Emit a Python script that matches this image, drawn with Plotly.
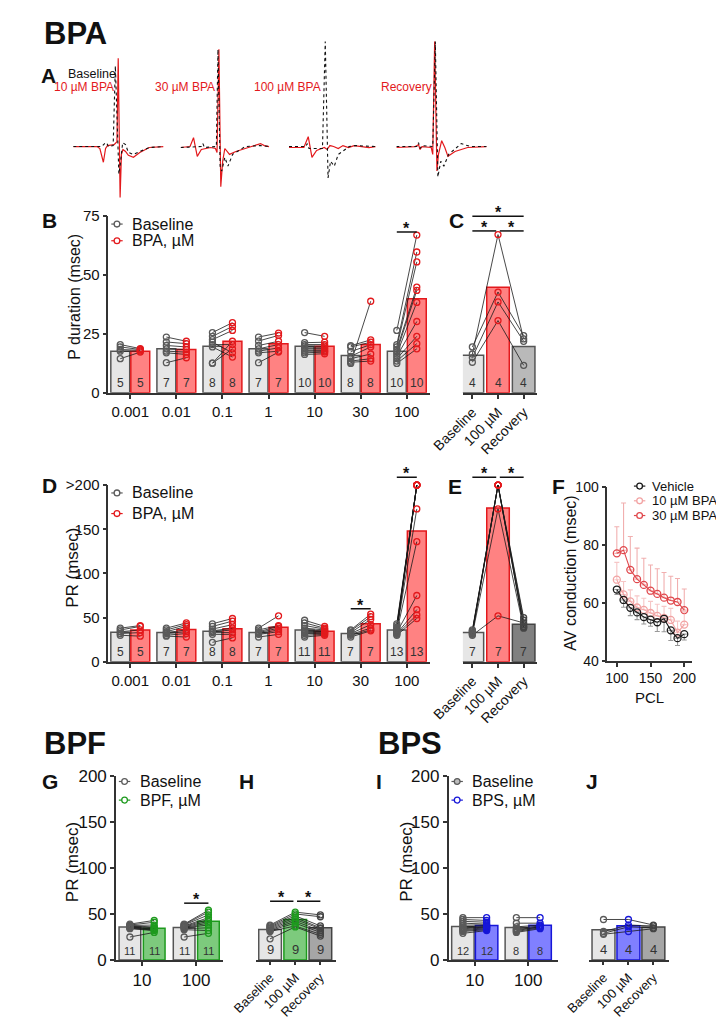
import plotly.graph_objects as go

W, H = 724, 1019
FONT = "Liberation Sans, Arial, Helvetica, sans-serif"

# ===================== DATA =====================
# A - representative electrograms: time (ms from sweep start), amplitude (a.u.)
A1_base_t = [0, 30, 33, 35, 37, 42, 44.3, 46, 48, 49.5, 52, 55, 58, 63, 70, 80, 95]
A1_base_v = [0, 0, 3, 4, 0, 1, 82, 20, -28, -18, 4, 2, -6, -8, -5, -1, 0]
A1_drug_t = [0, 25, 28, 31.7, 34, 36, 43, 46, 47.3, 48.3, 49.3, 50.7, 52.3, 55, 58, 63.3, 70, 80, 95]
A1_drug_v = [0, 0, -2, -16, -2, 1, 2, 5, 90, 20, -52, -8, -3, -5, -9, -11, -6, -1, 0]
A2_base_t = [0, 22, 23.7, 25.3, 38, 39.7, 42, 43.7, 47, 50.3, 55.3, 68.7, 85, 94]
A2_base_v = [-1, 0, 3, -1, 0, 99, -20, -25, -11, -20, -8, 0, 1, 0]
A2_drug_t = [0, 10, 13.7, 15.3, 17.7, 22, 32, 37, 38.7, 40.7, 41.7, 42.7, 44.7, 47, 52, 58.7, 72, 85, 89, 94]
A2_drug_v = [-1, 0, 9, 0, -10, -3, -1, -2, -6, 99, 20, -41, -15, -2, -8, -5, -1, 3, 1, 0]
A3_base_t = [0, 18, 19.7, 21.5, 36, 39, 40.7, 42, 44.7, 48.7, 53, 64.7, 71, 93]
A3_base_v = [0, 0, 3, -2, -2, 107, 30, -32, -15, -20, -8, 0, 1, 0]
A3_drug_t = [0, 16, 20.7, 22.3, 24.7, 29.7, 38, 41, 44, 48, 53, 58, 64, 70, 78, 86, 93]
A3_drug_v = [-1, -1, 10, 0, -11, -4, -1, -3, 1, 0, -2, 1, -1, 1, 0, -1, 0]
A4_base_t = [0, 21.7, 23.3, 25, 27, 38.3, 41, 42.5, 43.7, 46.7, 50, 55, 68.3, 78, 95]
A4_base_v = [0, 0, 4, -2, 1, 0, 107, 30, -31, -15, -20, -8, 3, 0, 0]
A4_drug_t = [0, 20, 23.3, 25, 27, 36.7, 38.3, 40.3, 41.7, 42.7, 44.3, 47.7, 51, 54.3, 61.7, 75, 95]
A4_drug_v = [-1, 0, 2, -3, 0, -1, -8, 107, 30, -25, -8, 6, -1, -10, -5, -1, 0]
A_labels = ["10 µM BPA", "30 µM BPA", "100 µM BPA", "Recovery"]

# B - P duration (msec) vs BPA concentration (µM)
B_conc = ["0.001", "0.01", "0.1", "1", "10", "30", "100"]
B_base_mean = [17.7, 18.7, 19.8, 18.7, 19.8, 15.9, 17.7]
B_bpa_mean = [17.7, 18.4, 21.9, 20.9, 19.8, 20.5, 40.0]
B_n = [5, 7, 8, 7, 10, 8, 10]
B_base_pts = [
    [20.5, 19.5, 18.4, 17.7, 14.5],
    [23.7, 21.6, 20.1, 18.7, 17.7, 17.0, 12.8],
    [25.6, 24.0, 22.6, 21.5, 20.5, 19.5, 12.6, 12.6],
    [23.7, 22.0, 20.1, 18.7, 17.7, 17.0, 12.8],
    [25.6, 21.3, 20.5, 19.8, 19.1, 18.7, 18.1, 17.7, 17.0, 16.3],
    [20.0, 19.5, 17.5, 15.5, 14.5, 13.5, 13.0, 12.5],
    [26.5, 20.5, 19.5, 18.5, 17.5, 16.5, 15.5, 14.5, 13.5, 12.5],
]
B_bpa_pts = [
    [18.8, 18.4, 18.1, 17.7, 17.3],
    [21.9, 20.9, 19.5, 18.4, 17.3, 16.3, 14.9],
    [29.8, 28.2, 26.5, 17.0, 20.5, 15.2, 21.9, 18.7],
    [25.4, 24.4, 21.9, 20.5, 19.1, 17.7, 17.3],
    [24.0, 21.5, 20.5, 19.8, 19.1, 18.7, 18.1, 17.7, 17.3, 16.6],
    [22.5, 21.5, 20.5, 19.5, 16.5, 14.5, 13.5, 38.9],
    [67.0, 59.8, 55.6, 44.9, 43.5, 38.4, 30.3, 24.0, 20.9, 18.7],
]

# C - P duration: Baseline / 100 µM / Recovery
C_groups = ["Baseline", "100 µM", "Recovery"]
C_mean = [16.0, 44.8, 19.7]
C_n = [4, 4, 4]
C_base = [16.5, 19.5, 15.0, 13.0]
C_bpa = [67.2, 42.8, 38.6, 30.7]
C_rec = [22.9, 24.3, 21.9, 11.7]

# D - PR interval (msec) vs BPA concentration
D_conc = ["0.001", "0.01", "0.1", "1", "10", "30", "100"]
D_base_mean = [33.3, 33.0, 34.5, 33.0, 36.0, 32.0, 36.0]
D_bpa_mean = [35.9, 36.5, 37.5, 39.0, 34.5, 43.0, 148.0]
D_n = [5, 7, 8, 7, 11, 7, 13]
D_base_pts = [
    [38, 36, 34, 32, 30],
    [38, 36, 34, 33, 32, 30, 29],
    [43, 40, 37, 35, 34, 33, 31, 22],
    [38, 36, 34, 33, 32, 31, 28],
    [47, 44, 41, 38, 36, 35, 34, 33, 32, 30, 28],
    [36, 35, 33, 32, 31, 30, 28],
    [43, 41, 39, 38, 37, 36, 35, 35, 34, 33, 32, 31, 30],
]
D_bpa_pts = [
    [41, 40, 36, 33, 29],
    [44, 42, 40, 36, 34, 32, 28],
    [49, 46, 42, 38, 36, 33, 31, 27],
    [52, 41, 40, 38, 36, 34, 31],
    [40, 38, 37, 36, 35, 34, 34, 33, 32, 31, 30],
    [54, 51, 48, 42, 38, 36, 35],
    [200, 200, 200, 200, 200, 200, 200, 173, 136, 75, 59, 53, 49],
]

# E - PR: Baseline / 100 µM / Recovery
E_groups = ["Baseline", "100 µM", "Recovery"]
E_mean = [33.0, 174.0, 42.5]
E_n = [7, 7, 7]
E_base = [36, 35, 34, 33, 32, 31, 30]
E_bpa = [200, 200, 200, 200, 200, 173, 52]
E_rec = [50, 47, 42, 40, 39, 38, 44]

# F - AV conduction (msec) vs pacing cycle length
F_pcl = [100, 110, 120, 130, 140, 150, 160, 170, 180, 190, 200]
F_veh = [64.6, 61.0, 58.3, 56.7, 55.1, 54.2, 53.3, 54.5, 50.5, 47.8, 49.2]
F_veh_sd = [1.7, 2.5, 2.7, 2.5, 2.4, 2.3, 3.2, 4.5, 3.5, 2.5, 2.0]
F_10 = [68.0, 62.9, 60.5, 58.4, 57.6, 56.5, 55.5, 54.8, 54.1, 49.7, 52.5]
F_10_sd = [6.0, 4.5, 4.0, 4.0, 4.0, 4.0, 4.0, 4.0, 4.0, 4.0, 4.5]
F_30 = [77.1, 78.2, 71.4, 68.2, 66.2, 64.2, 63.1, 61.8, 60.8, 60.3, 57.5]
F_30_sd = [9.2, 16.3, 11.5, 10.7, 9.2, 8.9, 8.7, 8.7, 8.4, 8.1, 7.3]

# G - PR vs BPF concentration
G_conc = ["10", "100"]
G_base_mean = [35.8, 35.2]
G_bpf_mean = [34.5, 42.0]
G_n = [11, 11]
G_base_pts = [
    [39, 38, 37.5, 37, 36.5, 36, 35.5, 35, 34.5, 34, 25],
    [39, 38.5, 38, 37, 36.5, 36, 35.5, 35, 34, 33, 25],
]
G_bpf_pts = [
    [43, 41, 38, 36, 35, 34, 33.5, 33, 32.5, 32, 30],
    [54, 52, 49, 46, 44, 42, 40, 38, 35, 32, 29],
]

# H - PR: Baseline / 100 µM BPF / Recovery
H_groups = ["Baseline", "100 µM", "Recovery"]
H_mean = [33.2, 43.9, 35.0]
H_n = [9, 9, 9]
H_base = [38, 37, 36, 35, 34, 33, 32, 31, 23]
H_bpf = [52, 50, 48, 46, 44, 42, 40, 37, 36]
H_rec = [49, 47, 37, 35, 34, 32, 30, 28, 26]

# I - PR vs BPS concentration
I_conc = ["10", "100"]
I_base_mean = [36.5, 35.3]
I_bps_mean = [37.6, 37.8]
I_n = [12, 8]
I_base_pts = [
    [46, 44, 42, 40, 38, 36, 35, 34, 33, 32, 31, 29],
    [46, 40, 36, 34, 33, 32, 31, 30],
]
I_bps_pts = [
    [46, 43, 41, 39, 38, 37, 36, 36, 35, 34, 33, 32],
    [46, 40, 38, 37, 36, 36, 35, 34],
]

# J - PR: Baseline / 100 µM BPS / Recovery
J_groups = ["Baseline", "100 µM", "Recovery"]
J_mean = [33.0, 37.3, 35.8]
J_n = [4, 4, 4]
J_base = [44, 31, 29, 28]
J_bps = [44, 38, 36, 31]
J_rec = [38, 37, 35, 34]

# ===================== STYLE =====================
GRAY_FILL, GRAY_EDGE = "#e6e6e6", "#555555"
RED_FILL, RED_EDGE = "#ff8282", "#e3191c"
GREEN_FILL, GREEN_EDGE = "#7dca7d", "#1e9a1e"
BLUE_FILL, BLUE_EDGE = "#8080ff", "#1616d8"
PT_GRAY = "#5a5a5a"
AX = "#333333"

fig = go.Figure()
shapes, annos = [], []
P, order = {}, []


def add_panel(key, left, right, top, bottom, xr, yr):
    order.append(key)
    P[key] = dict(idx=len(order), l=left, r=right, t=top, b=bottom, xr=xr, yr=yr)


def suf(key):
    i = P[key]["idx"]
    return "" if i == 1 else str(i)


def xa(key):
    return "x" + suf(key)


def ya(key):
    return "y" + suf(key)


def xs(key, v):
    p = P[key]
    return (p["l"] + (v - p["xr"][0]) / (p["xr"][1] - p["xr"][0]) * (p["r"] - p["l"])) / W


def ys(key, v):
    p = P[key]
    return 1 - (p["b"] - (v - p["yr"][0]) / (p["yr"][1] - p["yr"][0]) * (p["b"] - p["t"])) / H


def pxx(px):
    return px / W


def pxy(py):
    return 1 - py / H


# panel frames (pixel boxes) and data ranges
A_boxes = [(35, 130), (148, 242), (262, 355), (375, 470)]
for k, (l, r) in enumerate(A_boxes):
    add_panel(f"A{k+1}", l, r, 22, 187, [0, 95], [-55, 110])
add_panel("B", 72, 410, 203, 383, [-0.474, 6.495], [0, 75])
add_panel("C", 445, 523, 190, 383, [-0.37, 2.52], [0, (383 - 190) / 2.4])
add_panel("D", 72, 410, 477, 657, [-0.474, 6.495], [0, 200])
add_panel("E", 445, 523, 455, 657, [-0.37, 2.52], [0, (657 - 455) / 0.9])
add_panel("F", 597, 686, 479, 656, [85.9, 211.3], [40, 100])
add_panel("G", 80, 193, 773, 961, [-0.48, 1.5], [0, 200])
add_panel("H", 227, 312, 773, 961, [-0.57, 2.64], [0, 200])
add_panel("I", 430, 545, 773, 961, [-0.489, 1.555], [0, 200])
add_panel("J", 578, 662, 773, 961, [-0.571, 2.63], [0, 200])

layout_axes = {}
for key in order:
    p = P[key]
    s = suf(key)
    layout_axes["xaxis" + s] = dict(domain=[p["l"] / W, p["r"] / W], range=p["xr"], anchor="y" + s,
                                    visible=False, showgrid=False, zeroline=False, fixedrange=True)
    layout_axes["yaxis" + s] = dict(domain=[1 - p["b"] / H, 1 - p["t"] / H], range=p["yr"], anchor="x" + s,
                                    visible=False, showgrid=False, zeroline=False, fixedrange=True)


def style_axis(name, tickvals, ticktext, fs, angle=None, ticklen=4):
    d = dict(visible=True, showline=True, linecolor=AX, linewidth=1.6, ticks="outside", ticklen=ticklen,
             tickwidth=1.5, tickcolor=AX, tickvals=tickvals, ticktext=ticktext,
             tickfont=dict(family=FONT, size=fs, color="#111"))
    if angle is not None:
        d["tickangle"] = angle
    layout_axes[name].update(d)


def axname(key, which):
    return ("xaxis" if which == "x" else "yaxis") + suf(key)


# ---------------- Panel A traces ----------------
A_sweeps = [(A1_base_t, A1_base_v, A1_drug_t, A1_drug_v), (A2_base_t, A2_base_v, A2_drug_t, A2_drug_v),
            (A3_base_t, A3_base_v, A3_drug_t, A3_drug_v), (A4_base_t, A4_base_v, A4_drug_t, A4_drug_v)]
for k, (bt, bv, dt, dv) in enumerate(A_sweeps):
    key = f"A{k+1}"
    fig.add_trace(go.Scatter(x=dt, y=dv, mode="lines", line=dict(color="#e3191c", width=1.2),
                             xaxis=xa(key), yaxis=ya(key), showlegend=False, hoverinfo="skip"))
    fig.add_trace(go.Scatter(x=bt, y=bv, mode="lines", line=dict(color="#111", width=1.1, dash="dot"),
                             xaxis=xa(key), yaxis=ya(key), showlegend=False, hoverinfo="skip"))


# ---------------- helpers for bar panels ----------------
def paired(key, base_mean, drug_mean, n, base_pts, drug_pts, off, width, dfill, dedge, nfs):
    g = list(range(len(base_mean)))
    xb = [i - off for i in g]
    xd = [i + off for i in g]
    fig.add_trace(go.Bar(x=xb, y=base_mean, width=width, xaxis=xa(key), yaxis=ya(key), showlegend=False,
                         marker=dict(color=GRAY_FILL, line=dict(color=GRAY_EDGE, width=1.5)), hoverinfo="skip"))
    fig.add_trace(go.Bar(x=xd, y=drug_mean, width=width, xaxis=xa(key), yaxis=ya(key), showlegend=False,
                         marker=dict(color=dfill, line=dict(color=dedge, width=1.5)), hoverinfo="skip"))
    lx, ly = [], []
    for i in g:
        for b, d in zip(base_pts[i], drug_pts[i]):
            lx += [i - off, i + off, None]
            ly += [b, d, None]
    fig.add_trace(go.Scatter(x=lx, y=ly, mode="lines", line=dict(color="#1a1a1a", width=0.8),
                             xaxis=xa(key), yaxis=ya(key), showlegend=False, hoverinfo="skip"))
    fig.add_trace(go.Scatter(x=[i - off for i in g for _ in base_pts[i]], y=[v for i in g for v in base_pts[i]],
                             mode="markers", cliponaxis=False, xaxis=xa(key), yaxis=ya(key), showlegend=False,
                             marker=dict(symbol="circle-open", size=6, color=PT_GRAY, line=dict(width=1.3)),
                             hoverinfo="skip"))
    fig.add_trace(go.Scatter(x=[i + off for i in g for _ in drug_pts[i]], y=[v for i in g for v in drug_pts[i]],
                             mode="markers", cliponaxis=False, xaxis=xa(key), yaxis=ya(key), showlegend=False,
                             marker=dict(symbol="circle-open", size=6, color=dedge, line=dict(width=1.3)),
                             hoverinfo="skip"))
    for i in g:
        for xpos in (i - off, i + off):
            annos.append(dict(text=str(n[i]), x=xs(key, xpos), y=pxy(P[key]["b"] - 1), xref="paper", yref="paper",
                              xanchor="center", yanchor="bottom", showarrow=False,
                              font=dict(family=FONT, size=nfs, color="#333")))


def triple(key, means, n, cols, fills, edges, ptcols, width, nfs):
    g = [0, 1, 2]
    fig.add_trace(go.Bar(x=g, y=means, width=width, xaxis=xa(key), yaxis=ya(key), showlegend=False,
                         marker=dict(color=fills, line=dict(color=edges, width=1.5)), hoverinfo="skip"))
    lx, ly = [], []
    for s in range(len(cols[0])):
        lx += [0, 1, 2, None]
        ly += [cols[0][s], cols[1][s], cols[2][s], None]
    fig.add_trace(go.Scatter(x=lx, y=ly, mode="lines", line=dict(color="#1a1a1a", width=0.8),
                             xaxis=xa(key), yaxis=ya(key), showlegend=False, hoverinfo="skip"))
    for c in g:
        fig.add_trace(go.Scatter(x=[c] * len(cols[c]), y=cols[c], mode="markers", cliponaxis=False,
                                 xaxis=xa(key), yaxis=ya(key), showlegend=False, hoverinfo="skip",
                                 marker=dict(symbol="circle-open", size=6, color=ptcols[c], line=dict(width=1.3))))
        annos.append(dict(text=str(n[c]), x=xs(key, c), y=pxy(P[key]["b"] - 1), xref="paper", yref="paper",
                          xanchor="center", yanchor="bottom", showarrow=False,
                          font=dict(family=FONT, size=nfs, color="#333")))


# ---------------- B / C ----------------
paired("B", B_base_mean, B_bpa_mean, B_n, B_base_pts, B_bpa_pts, 0.217, 0.41, RED_FILL, RED_EDGE, 12)
style_axis(axname("B", "x"), list(range(7)), B_conc, 15)
style_axis(axname("B", "y"), [0, 25, 50, 75], ["0", "25", "50", "75"], 15)
triple("C", C_mean, C_n, [C_base, C_bpa, C_rec], [GRAY_FILL, RED_FILL, "#b9b9b9"],
       [GRAY_EDGE, RED_EDGE, "#555"], [PT_GRAY, RED_EDGE, "#555"], 0.88, 12)
style_axis(axname("C", "x"), [0, 1, 2], C_groups, 14, -45)

# ---------------- D / E ----------------
paired("D", D_base_mean, D_bpa_mean, D_n, D_base_pts, D_bpa_pts, 0.217, 0.41, RED_FILL, RED_EDGE, 12)
style_axis(axname("D", "x"), list(range(7)), D_conc, 15)
style_axis(axname("D", "y"), [0, 50, 100, 150, 200], ["0", "50", "100", "150", ">200"], 15)
triple("E", E_mean, E_n, [E_base, E_bpa, E_rec], [GRAY_FILL, RED_FILL, "#808080"],
       [GRAY_EDGE, RED_EDGE, "#444"], [PT_GRAY, RED_EDGE, "#444"], 0.88, 12)
style_axis(axname("E", "x"), [0, 1, 2], E_groups, 14, -45)

# ---------------- F ----------------
F_series = [
    (F_30, F_30_sd, "#e0474c", "rgba(230,110,110,0.55)", True),
    (F_10, F_10_sd, "#f2a3a3", "rgba(240,160,160,0.6)", True),
    (F_veh, F_veh_sd, "#1a1a1a", "rgba(110,110,110,0.7)", False),
]
zeros = [0] * len(F_pcl)
for vals, sd, col, ecol, up in F_series:
    fig.add_trace(go.Scatter(
        x=F_pcl, y=vals, mode="lines+markers", cliponaxis=False, xaxis=xa("F"), yaxis=ya("F"), showlegend=False,
        line=dict(color=col, width=1.1), hoverinfo="skip",
        marker=dict(symbol="circle-open", size=7, color=col, line=dict(width=1.3)),
        error_y=dict(type="data", symmetric=False, array=sd if up else zeros, arrayminus=zeros if up else sd,
                     color=ecol, thickness=1.1, width=2.5)))
style_axis(axname("F", "x"), [100, 150, 200], ["100", "150", "200"], 14)
style_axis(axname("F", "y"), [40, 60, 80, 100], ["40", "60", "80", "100"], 14)

# ---------------- G / H ----------------
paired("G", G_base_mean, G_bpf_mean, G_n, G_base_pts, G_bpf_pts, 0.224, 0.40, GREEN_FILL, GREEN_EDGE, 11)
style_axis(axname("G", "x"), [0, 1], G_conc, 17)
style_axis(axname("G", "y"), [0, 50, 100, 150, 200], ["0", "50", "100", "150", "200"], 17)
triple("H", H_mean, H_n, [H_base, H_bpf, H_rec], [GRAY_FILL, GREEN_FILL, "#a6a6a6"],
       [GRAY_EDGE, GREEN_EDGE, "#444"], [PT_GRAY, GREEN_EDGE, "#444"], 0.9, 13)
style_axis(axname("H", "x"), [0, 1, 2], H_groups, 13, -45, ticklen=3)

# ---------------- I / J ----------------
paired("I", I_base_mean, I_bps_mean, I_n, I_base_pts, I_bps_pts, 0.222, 0.42, BLUE_FILL, BLUE_EDGE, 11)
style_axis(axname("I", "x"), [0, 1], I_conc, 17)
style_axis(axname("I", "y"), [0, 50, 100, 150, 200], ["0", "50", "100", "150", "200"], 17)
triple("J", J_mean, J_n, [J_base, J_bps, J_rec], [GRAY_FILL, BLUE_FILL, "#a6a6a6"],
       [GRAY_EDGE, BLUE_EDGE, "#444"], [PT_GRAY, BLUE_EDGE, "#444"], 0.92, 13)
style_axis(axname("J", "x"), [0, 1, 2], J_groups, 13, -45, ticklen=3)


# ---------------- significance bars ----------------
def sig(key, x0, x1, v, star_x=None):
    y = ys(key, v)
    shapes.append(dict(type="line", xref="paper", yref="paper", x0=xs(key, x0), x1=xs(key, x1), y0=y, y1=y,
                       line=dict(color="#111", width=1.5)))
    sx = (x0 + x1) / 2 if star_x is None else star_x
    annos.append(dict(text="<b>*</b>", x=xs(key, sx), y=y + 3.5 / H, xref="paper", yref="paper",
                      xanchor="center", yanchor="middle", showarrow=False,
                      font=dict(family=FONT, size=16, color="#111")))


sig("B", 6 - 0.217, 6 + 0.217, 68.3)
sig("C", 0, 2, 75.0)
sig("C", 0, 0.93, 68.75)
sig("C", 1.07, 2, 68.75)
sig("D", 5 - 0.217, 5 + 0.217, 60.0)
sig("D", 6 - 0.217, 6 + 0.217, 208.9)
sig("E", 0, 0.93, 208.9)
sig("E", 1.07, 2, 208.9)
sig("G", 1 - 0.224, 1 + 0.224, 61.7)
sig("H", 0, 0.93, 63.8)
sig("H", 1.07, 2, 63.8)


# ---------------- legends (manual) ----------------
def legend_item(cx, cy, color, text, fs, fill="white", tx=14):
    shapes.append(dict(type="line", xref="paper", yref="paper", x0=pxx(cx - 6), x1=pxx(cx + 6),
                       y0=pxy(cy), y1=pxy(cy), line=dict(color=color, width=1.2)))
    shapes.append(dict(type="circle", xref="paper", yref="paper", x0=pxx(cx - 3), x1=pxx(cx + 3),
                       y0=pxy(cy + 3), y1=pxy(cy - 3), line=dict(color=color, width=1.3), fillcolor=fill))
    annos.append(dict(text=text, x=pxx(cx + tx), y=pxy(cy), xref="paper", yref="paper", xanchor="left",
                      yanchor="middle", showarrow=False, font=dict(family=FONT, size=fs, color="#111")))


legend_item(81, 211, PT_GRAY, "Baseline", 16)
legend_item(81, 228, RED_EDGE, "BPA, µM", 16)
legend_item(81, 485, PT_GRAY, "Baseline", 16)
legend_item(81, 506, RED_EDGE, "BPA, µM", 16)
legend_item(89, 779, PT_GRAY, "Baseline", 16)
legend_item(89, 798, GREEN_EDGE, "BPF, µM", 16)
legend_item(439, 779, PT_GRAY, "Baseline", 16, fill="#bdbdbd")
legend_item(439, 798, BLUE_EDGE, "BPS, µM", 16)
legend_item(631, 478, "#1a1a1a", "Vehicle", 13, tx=11)
legend_item(631, 493, "#f2a3a3", "10 µM BPA", 13, tx=11)
legend_item(631, 508, "#e0474c", "30 µM BPA", 13, tx=11)


# ---------------- text: headers, letters, titles ----------------
def txt(text, x, y, size, color="#111", xanchor="center", bold=False, angle=0):
    annos.append(dict(text=f"<b>{text}</b>" if bold else text, x=pxx(x), y=pxy(y), xref="paper", yref="paper",
                      xanchor=xanchor, yanchor="middle", showarrow=False, textangle=angle,
                      font=dict(family=FONT, size=size, color=color)))


txt("BPA", 2, 17, 31, xanchor="left", bold=True)
txt("BPF", 2, 740, 31, xanchor="left", bold=True)
txt("BPS", 354, 740, 31, xanchor="left", bold=True)
for letter, x, y in [("A", 9, 60), ("B", 10, 207), ("C", 438, 207), ("D", 10, 477), ("E", 437, 478),
                     ("F", 546, 478), ("G", 11, 779), ("H", 217, 779), ("I", 357, 779), ("J", 581, 779)]:
    txt(letter, x, y, 21, bold=True)

txt("Baseline", 27, 58, 12.5, xanchor="left")
txt(A_labels[0], 80, 71, 12, color="#e3191c", xanchor="right")
txt(A_labels[1], 186, 71, 12, color="#e3191c", xanchor="right")
txt(A_labels[2], 298, 71, 12, color="#e3191c", xanchor="right")
txt(A_labels[3], 415, 71, 12, color="#e3191c", xanchor="right")

txt("P duration (msec)", 37, 285, 16, angle=-90)
txt("PR (msec)", 34, 561, 17, angle=-90)
txt("AV conduction (msec)", 558, 567, 16, angle=-90)
txt("PCL", 641, 693, 15)
txt("PR (msec)", 35, 861, 17, angle=-90)
txt("PR (msec)", 386, 861, 17, angle=-90)

fig.update_layout(
    width=W, height=H, autosize=False, margin=dict(l=0, r=0, t=0, b=0),
    paper_bgcolor="white", plot_bgcolor="white", barmode="overlay", showlegend=False,
    shapes=shapes, annotations=annos, font=dict(family=FONT), **layout_axes)

fig.write_html("out.html")
